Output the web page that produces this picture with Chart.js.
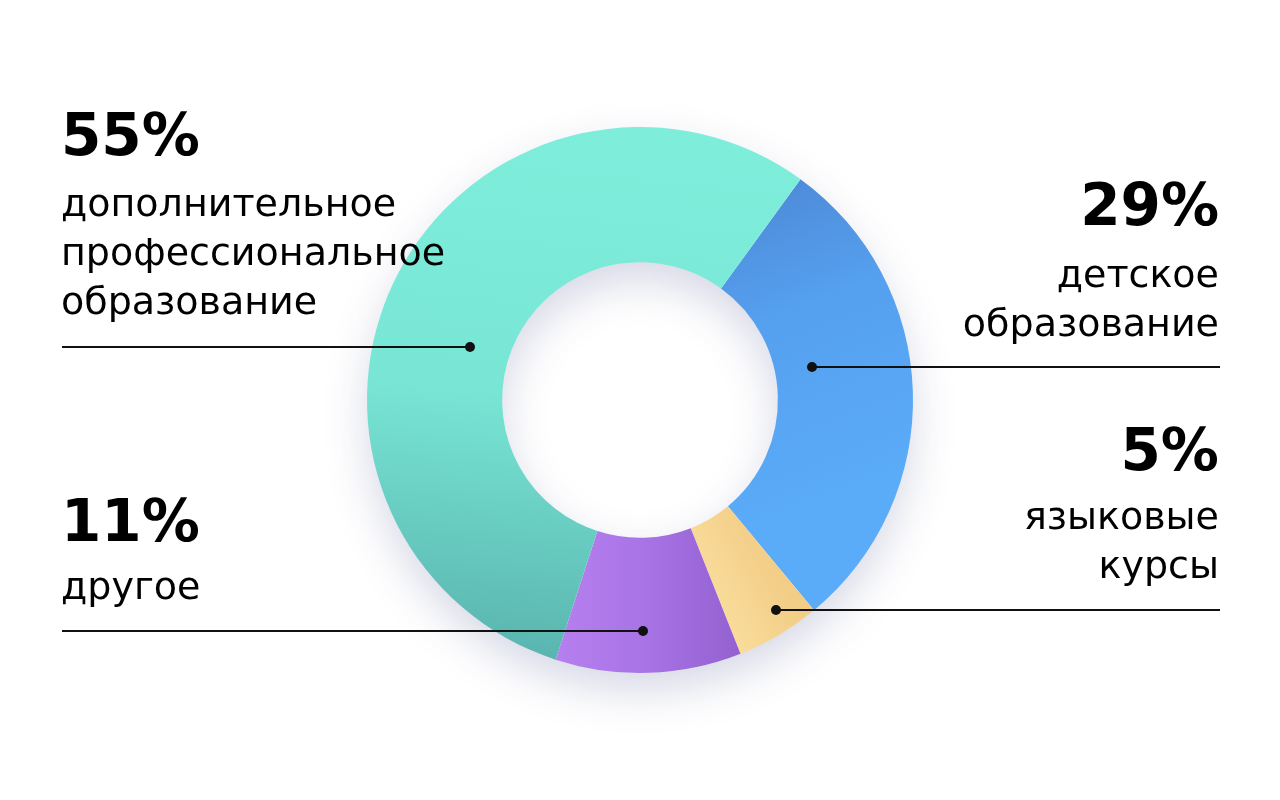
<!DOCTYPE html>
<html>
<head>
<meta charset="utf-8">
<script src="https://cdn.jsdelivr.net/npm/chart.js@4"></script>
<style>
  html, body { margin: 0; padding: 0; background: #fff; }
  #wrap { position: relative; width: 1280px; height: 800px; overflow: hidden; }
  #wrap canvas { position: absolute; left: 0; top: 0; }
  .lbl { position: absolute; font-family: "DejaVu Sans", sans-serif; color: #000; white-space: nowrap; }
  .lbl.right { text-align: right; right: 61px; }
  .lbl.left { left: 61px; }
  .pct { font-weight: bold; font-size: 58px; line-height: 58px; }
  .txt { font-size: 38px; line-height: 49px; }
</style>
</head>
<body>
<div id="wrap">
  <canvas id="donut" width="1280" height="800"></canvas>
</div>
<script>
// данные
var categories = ['детское образование', 'языковые курсы', 'другое', 'дополнительное профессиональное образование'];
var labelLines = [['детское', 'образование'], ['языковые', 'курсы'], ['другое'], ['дополнительное', 'профессиональное', 'образование']];
var shares = [29, 5, 11, 55];

// раскладка подписей (не данные)
var labelPos = [
  { side: 'right', pctTop: 176, txtTop: 250, lineY: 367, dotDx: 172 },
  { side: 'right', pctTop: 421, txtTop: 492, lineY: 610, dotDx: 136 },
  { side: 'left',  pctTop: 492, txtTop: 562, lineY: 631, dotDx: 3 },
  { side: 'left',  pctTop: 106, txtTop: 179, lineY: 347, dotDx: -170 }
];

// градиенты сегментов: [x0,y0,x1,y1] в долях радиуса от центра + цвета
var sliceGradients = [
  { dir: [0.1, -0.9, 0.6, 0.4], stops: ['#4a80cc', '#55a0ef', '#5aabf8'] },
  { dir: [-0.1, 0.9, 0.5, 0.6], stops: ['#fee9ad', '#fbe0a0', '#f2cd86'] },
  { dir: [-0.35, 0.8, 0.35, 0.8], stops: ['#b981f1', '#a874e6', '#9562d2'] },
  { dir: [0, -1, -0.2, 1], stops: ['#7eeedb', '#79e6d5', '#58b3ae'] }
];

function sliceColor(context) {
  var chart = context.chart;
  var area = chart.chartArea;
  var g = sliceGradients[context.dataIndex];
  if (!area) return g.stops[1];
  var cx = (area.left + area.right) / 2;
  var cy = (area.top + area.bottom) / 2;
  var r = 273;
  var d = g.dir;
  var grad = chart.ctx.createLinearGradient(cx + d[0] * r, cy + d[1] * r, cx + d[2] * r, cy + d[3] * r);
  grad.addColorStop(0, g.stops[0]);
  grad.addColorStop(0.5, g.stops[1]);
  grad.addColorStop(1, g.stops[2]);
  return grad;
}

// мягкая тень под кольцом
var ringShadow = {
  id: 'ringShadow',
  beforeDatasetsDraw: function (chart) {
    var arc = chart.getDatasetMeta(0).data[0];
    if (!arc) return;
    var c = chart.ctx;
    c.save();
    c.beginPath();
    c.arc(arc.x, arc.y, arc.outerRadius - 2, 0, Math.PI * 2);
    c.arc(arc.x, arc.y, arc.innerRadius + 2, 0, Math.PI * 2, true);
    c.closePath();
    c.shadowColor = 'rgba(60, 70, 130, 0.22)';
    c.shadowBlur = 45;
    c.shadowOffsetY = 18;
    c.fillStyle = '#ffffff';
    c.fill();
    c.restore();
  }
};

// выноски с точками
var leaders = {
  id: 'leaders',
  afterDatasetsDraw: function (chart) {
    var meta = chart.getDatasetMeta(0);
    var c = chart.ctx;
    c.save();
    c.strokeStyle = '#111';
    c.fillStyle = '#111';
    c.lineWidth = 2;
    meta.data.forEach(function (arc, i) {
      var p = labelPos[i];
      var dotX = arc.x + p.dotDx;
      var endX = p.side === 'left' ? 62 : 1220;
      c.beginPath();
      c.moveTo(endX, p.lineY);
      c.lineTo(dotX, p.lineY);
      c.stroke();
      c.beginPath();
      c.arc(dotX, p.lineY, 5, 0, Math.PI * 2);
      c.fill();
    });
    c.restore();
  }
};

new Chart(document.getElementById('donut').getContext('2d'), {
  type: 'doughnut',
  data: {
    labels: categories,
    datasets: [{
      data: shares,
      backgroundColor: sliceColor,
      borderWidth: 0
    }]
  },
  options: {
    responsive: false,
    animation: false,
    rotation: 36,
    radius: 273,
    cutout: '50.5%',
    plugins: {
      legend: { display: false },
      tooltip: { enabled: false }
    },
    events: []
  },
  plugins: [ringShadow, leaders]
});

// подписи
var wrap = document.getElementById('wrap');
labelLines.forEach(function (lines, i) {
  var p = labelPos[i];
  var pct = document.createElement('div');
  pct.className = 'lbl pct ' + p.side;
  pct.style.top = p.pctTop + 'px';
  pct.textContent = shares[i] + '%';
  wrap.appendChild(pct);

  var txt = document.createElement('div');
  txt.className = 'lbl txt ' + p.side;
  txt.style.top = p.txtTop + 'px';
  txt.innerHTML = lines.join('<br>');
  wrap.appendChild(txt);
});
</script>
</body>
</html>
